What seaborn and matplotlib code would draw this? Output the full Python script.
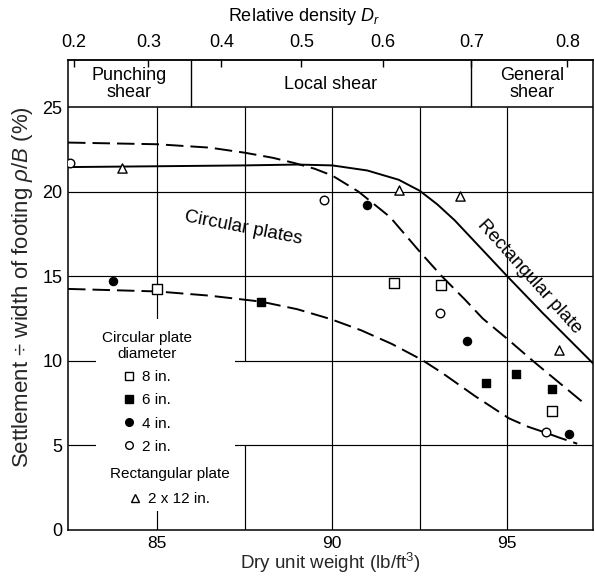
import matplotlib
matplotlib.use("Agg")
import matplotlib.pyplot as plt
import seaborn as sns
from matplotlib.lines import Line2D
from matplotlib.patches import Rectangle

# ---------------- data ----------------
plate8_x = [84.99, 91.76, 93.10, 96.29]
plate8_y = [14.24, 14.60, 14.50, 7.06]
plate6_x = [87.96, 94.38, 95.24, 96.29]
plate6_y = [13.50, 8.68, 9.20, 8.34]
plate4_x = [83.74, 90.98, 93.85, 96.77]
plate4_y = [14.70, 19.20, 11.18, 5.68]
plate2_x = [82.50, 89.75, 93.08, 96.10]
plate2_y = [21.70, 19.50, 12.85, 5.80]
rect_x = [84.00, 91.90, 93.66, 96.47]
rect_y = [21.40, 20.10, 19.76, 10.65]

rect_curve_x = [82.45, 85.0, 87.5, 89.0, 90.0, 91.0, 91.9, 92.5, 93.0, 93.5,
                94.0, 94.5, 95.0, 96.0, 97.16, 97.45]
rect_curve_y = [21.45, 21.5, 21.55, 21.6, 21.55, 21.25, 20.7, 20.05, 19.25, 18.3,
                17.2, 16.1, 15.0, 12.85, 10.45, 9.85]

upper_curve_x = [82.45, 85.0, 86.5, 87.5, 88.3, 88.9, 89.5, 90.0, 90.75, 91.65,
                 92.5, 93.13, 93.8, 94.3, 95.0, 95.7, 96.4, 97.16]
upper_curve_y = [22.9, 22.8, 22.6, 22.3, 22.0, 21.7, 21.35, 20.95, 20.0, 18.5,
                 16.45, 15.0, 13.6, 12.5, 11.3, 10.05, 8.85, 7.55]

lower_curve_x = [82.45, 85.0, 86.5, 87.96, 89.0, 89.95, 90.83, 91.7, 92.56, 93.13,
                 94.09, 95.05, 95.6, 96.1, 96.5, 97.0]
lower_curve_y = [14.25, 14.1, 13.85, 13.5, 13.05, 12.47, 11.8, 11.0, 10.06, 9.3,
                 7.9, 6.6, 6.1, 5.75, 5.45, 5.1]

x_ticks = [85, 90, 95]
y_ticks = [0, 5, 10, 15, 20, 25]
dr_labels = ["0.2", "0.3", "0.4", "0.5", "0.6", "0.7", "0.8"]
dr_positions = [82.61, 84.75, 86.83, 89.12, 91.45, 93.97, 96.72]
shear_bounds = [85.96, 93.97]
shear_names = ["Punching\nshear", "Local shear", "General\nshear"]
shear_centers = [84.2, 89.95, 95.72]

# ---------------- style ----------------
sns.set_style("white")
plt.rcParams["font.family"] = ["Liberation Sans", "DejaVu Sans"]
plt.rcParams["mathtext.fontset"] = "custom"
plt.rcParams["mathtext.rm"] = "Liberation Sans"
plt.rcParams["mathtext.it"] = "Liberation Sans:italic"
plt.rcParams["text.color"] = "black"

fig = plt.figure(figsize=(5.95, 5.79), dpi=100)
ax = fig.add_axes([68 / 595, 49 / 579, 525 / 595, 470 / 579])
XMIN, XMAX, YMIN, YMAX = 82.45, 97.45, 0, 27.78
ax.set_xlim(XMIN, XMAX)
ax.set_ylim(YMIN, YMAX)

for s in ax.spines.values():
    s.set_color("black")
    s.set_linewidth(1.1)

# grid lines
glw = 0.85
ax.hlines([5, 10, 15, 20], XMIN, XMAX, color="black", lw=glw, zorder=1)
ax.hlines([25], XMIN, XMAX, color="black", lw=1.1, zorder=1)
ax.vlines([85, 90, 92.5, 95], 0, 25, color="black", lw=glw, zorder=1)
ax.vlines([87.5, 87.5], [0, 10], [5, 25], color="black", lw=glw, zorder=1)
ax.vlines(shear_bounds, 25, YMAX, color="black", lw=1.0, zorder=1)

# white area behind the legend
ax.add_patch(Rectangle((83.25, 1.1), 87.22 - 83.25, 12.5 - 1.1,
                       facecolor="white", edgecolor="none", zorder=1.5))

# curves
dash = (0, (9, 3.6))
sns.lineplot(x=upper_curve_x, y=upper_curve_y, color="black", lw=1.4,
             linestyle=dash, errorbar=None, ax=ax, zorder=2)
sns.lineplot(x=lower_curve_x, y=lower_curve_y, color="black", lw=1.4,
             linestyle=dash, errorbar=None, ax=ax, zorder=2)
sns.lineplot(x=rect_curve_x, y=rect_curve_y, color="black", lw=1.4,
             errorbar=None, ax=ax, zorder=2)

# points
def pts(x, y, marker, filled, size):
    sns.scatterplot(x=x, y=y, marker=marker, s=size,
                    facecolor="black" if filled else "white",
                    edgecolor="black", linewidth=1.0, ax=ax, zorder=3)

pts(plate8_x, plate8_y, "s", False, 44)
pts(plate6_x, plate6_y, "s", True, 40)
pts(plate4_x, plate4_y, "o", True, 34)
pts(plate2_x, plate2_y, "o", False, 38)
pts(rect_x, rect_y, "^", False, 44)

# ticks
ax.set_xticks(x_ticks)
ax.set_yticks(y_ticks)
ax.tick_params(axis="both", length=0, labelsize=13, colors="black")
ax.tick_params(axis="x", pad=4, labelsize=12.5)
ax.tick_params(axis="y", pad=4)
ax.set_xlabel("Dry unit weight (lb/ft$^3$)", fontsize=13.5, labelpad=0)
ax.set_ylabel("Settlement \u00f7 width of footing $\\rho/B$ (%)", fontsize=16)
ax.yaxis.set_label_coords(-0.062, 0.517)

# top relative density axis
sec = ax.secondary_xaxis("top")
sec.set_xticks(dr_positions, labels=dr_labels)
sec.tick_params(direction="in", length=5, width=1.0, pad=6.5, labelsize=13,
                colors="black")
sec.spines["top"].set_linewidth(1.1)
ax.text(0.45, 1.092, "Relative density $D_r$", transform=ax.transAxes,
        ha="center", va="center", fontsize=13)

for name, cx in zip(shear_names, shear_centers):
    ax.text(cx, 26.35, name, ha="center", va="center", fontsize=13,
            linespacing=1.0)

# curve labels
ax.text(87.46, 17.83, "Circular plates", rotation=-11, ha="center",
        va="center", fontsize=13.5, rotation_mode="anchor")
ax.text(95.63, 14.95, "Rectangular plate", rotation=-48, ha="center",
        va="center", fontsize=13.5, rotation_mode="anchor")

# legends
def h(marker, filled, ms):
    return Line2D([], [], marker=marker, linestyle="none", markersize=ms,
                  markerfacecolor="black" if filled else "white",
                  markeredgecolor="black", markeredgewidth=1.0)

leg1 = ax.legend([h("s", False, 5.5), h("s", True, 5.5), h("o", True, 5.5),
                  h("o", False, 5.5)],
                 ["8 in.", "6 in.", "4 in.", "2 in."],
                 title="Circular plate\ndiameter", loc="upper center",
                 bbox_to_anchor=(84.7, 12.22), bbox_transform=ax.transData,
                 frameon=False, fontsize=11, title_fontsize=11, borderpad=0,
                 handlelength=0.8, handletextpad=0.45, labelspacing=0.6)
leg1.get_title().set_multialignment("center")
ax.add_artist(leg1)
leg2 = ax.legend([h("^", False, 6.0)], ["2 x 12 in."],
                 title="Rectangular plate", loc="upper center",
                 bbox_to_anchor=(85.35, 4.19), bbox_transform=ax.transData,
                 frameon=False, fontsize=11, title_fontsize=11, borderpad=0,
                 handlelength=0.8, handletextpad=0.45, labelspacing=0.75)
for lg in (leg1, leg2):
    lg.set_zorder(4)

fig.savefig("out.png", dpi=100)
